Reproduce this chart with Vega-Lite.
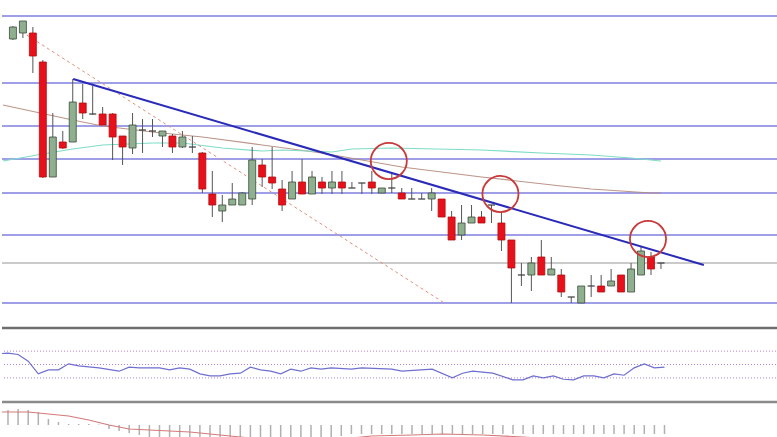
{
  "$schema": "https://vega.github.io/schema/vega-lite/v6.json",
  "padding": 0,
  "autosize": {"type": "pad"},
  "background": "white",
  "spacing": 0,
  "config": {"view": {"stroke": null}},
  "datasets": {
    "candles": [
      {"t":0,"o":361,"c":373,"h":374,"l":360},
      {"t":1,"o":367,"c":379,"h":379,"l":362},
      {"t":2,"o":367,"c":344,"h":373,"l":327},
      {"t":3,"o":338,"c":223,"h":340,"l":222},
      {"t":4,"o":223,"c":263,"h":287,"l":223},
      {"t":5,"o":258,"c":252,"h":269,"l":251},
      {"t":6,"o":258,"c":298,"h":321,"l":258},
      {"t":7,"o":297,"c":287,"h":316,"l":281},
      {"t":8,"o":286,"c":286,"h":314,"l":285},
      {"t":9,"o":286,"c":275,"h":293,"l":275},
      {"t":10,"o":286,"c":263,"h":287,"l":240},
      {"t":11,"o":264,"c":253,"h":264,"l":235},
      {"t":12,"o":252,"c":275,"h":287,"l":246},
      {"t":13,"o":270,"c":270,"h":281,"l":247},
      {"t":14,"o":269,"c":269,"h":281,"l":263},
      {"t":15,"o":264,"c":269,"h":269,"l":253},
      {"t":16,"o":264,"c":253,"h":266,"l":247},
      {"t":17,"o":253,"c":263,"h":269,"l":252},
      {"t":18,"o":253,"c":253,"h":264,"l":247},
      {"t":19,"o":247,"c":211,"h":248,"l":207},
      {"t":20,"o":206,"c":195,"h":229,"l":183},
      {"t":21,"o":189,"c":195,"h":205,"l":178},
      {"t":22,"o":195,"c":201,"h":217,"l":195},
      {"t":23,"o":195,"c":207,"h":208,"l":195},
      {"t":24,"o":201,"c":240,"h":253,"l":195},
      {"t":25,"o":235,"c":223,"h":241,"l":213},
      {"t":26,"o":223,"c":217,"h":253,"l":211},
      {"t":27,"o":211,"c":195,"h":220,"l":189},
      {"t":28,"o":201,"c":218,"h":229,"l":201},
      {"t":29,"o":218,"c":206,"h":241,"l":206},
      {"t":30,"o":206,"c":223,"h":229,"l":206},
      {"t":31,"o":218,"c":212,"h":223,"l":206},
      {"t":32,"o":212,"c":218,"h":229,"l":206},
      {"t":33,"o":218,"c":212,"h":229,"l":206},
      {"t":34,"o":212,"c":212,"h":218,"l":212},
      {"t":35,"o":217,"c":217,"h":217,"l":206},
      {"t":36,"o":218,"c":212,"h":229,"l":206},
      {"t":37,"o":207,"c":212,"h":212,"l":207},
      {"t":38,"o":212,"c":212,"h":228,"l":207},
      {"t":39,"o":207,"c":201,"h":212,"l":201},
      {"t":40,"o":201,"c":201,"h":212,"l":201},
      {"t":41,"o":201,"c":201,"h":207,"l":201},
      {"t":42,"o":201,"c":207,"h":212,"l":189},
      {"t":43,"o":201,"c":183,"h":201,"l":183},
      {"t":44,"o":183,"c":160,"h":189,"l":160},
      {"t":45,"o":165,"c":177,"h":195,"l":160},
      {"t":46,"o":177,"c":183,"h":195,"l":177},
      {"t":47,"o":183,"c":177,"h":189,"l":177},
      {"t":48,"o":195,"c":195,"h":195,"l":177},
      {"t":49,"o":177,"c":160,"h":188,"l":149},
      {"t":50,"o":160,"c":132,"h":160,"l":97},
      {"t":51,"o":125,"c":125,"h":137,"l":114},
      {"t":52,"o":125,"c":137,"h":143,"l":109},
      {"t":53,"o":143,"c":125,"h":160,"l":125},
      {"t":54,"o":125,"c":131,"h":143,"l":125},
      {"t":55,"o":125,"c":108,"h":131,"l":103},
      {"t":56,"o":103,"c":103,"h":103,"l":97},
      {"t":57,"o":97,"c":114,"h":114,"l":97},
      {"t":58,"o":114,"c":114,"h":125,"l":103},
      {"t":59,"o":114,"c":108,"h":125,"l":108},
      {"t":60,"o":114,"c":119,"h":131,"l":114},
      {"t":61,"o":125,"c":108,"h":125,"l":108},
      {"t":62,"o":108,"c":131,"h":137,"l":108},
      {"t":63,"o":125,"c":149,"h":153,"l":125},
      {"t":64,"o":143,"c":131,"h":148,"l":125},
      {"t":65,"o":137,"c":137,"h":137,"l":131}
    ],
    "levels": [
      {"p":384,"kind":"blue"},{"p":317,"kind":"blue"},{"p":274,"kind":"blue"},
      {"p":241,"kind":"blue"},{"p":207,"kind":"blue"},{"p":165,"kind":"blue"},
      {"p":137,"kind":"grey"},{"p":97,"kind":"blue"}
    ],
    "maSlow": [
      {"t":-1,"p":295},{"t":6,"p":280},{"t":9,"p":274},{"t":14,"p":268},{"t":19,"p":263},
      {"t":25,"p":255},{"t":31,"p":247},{"t":39,"p":233},{"t":47,"p":223},{"t":55,"p":214},
      {"t":58,"p":211},{"t":64,"p":207},{"t":65,"p":207}
    ],
    "maFast": [
      {"t":-1,"p":239},{"t":3,"p":246},{"t":6,"p":251},{"t":9,"p":255},{"t":14,"p":257},
      {"t":17,"p":257},{"t":21,"p":252},{"t":25,"p":249},{"t":27,"p":250},{"t":32,"p":248},
      {"t":34,"p":251},{"t":38,"p":252},{"t":47,"p":250},{"t":53,"p":247},{"t":58,"p":245},
      {"t":62,"p":242},{"t":65,"p":239}
    ],
    "trend": [{"t":6.04,"p":321},{"t":69.3,"p":135}],
    "dotted": [{"t":1.39,"p":365},{"t":43.27,"p":97}],
    "circles": [{"t":37.7,"p":239},{"t":48.9,"p":206},{"t":63.7,"p":161}],
    "rsi": [
      {"t":-1,"v":66},{"t":0,"v":67},{"t":1,"v":65},{"t":2,"v":55},{"t":3,"v":36},{"t":4,"v":42},
      {"t":5,"v":42},{"t":6,"v":51},{"t":7,"v":48},{"t":9,"v":45},{"t":11,"v":40},{"t":12,"v":46},
      {"t":13,"v":45},{"t":15,"v":45},{"t":16,"v":42},{"t":17,"v":45},{"t":18,"v":43},{"t":19,"v":36},
      {"t":20,"v":33},{"t":21,"v":33},{"t":22,"v":36},{"t":23,"v":37},{"t":24,"v":46},{"t":25,"v":42},
      {"t":26,"v":40},{"t":27,"v":36},{"t":28,"v":43},{"t":29,"v":40},{"t":30,"v":45},{"t":31,"v":43},
      {"t":32,"v":45},{"t":34,"v":43},{"t":35,"v":45},{"t":38,"v":43},{"t":39,"v":40},{"t":42,"v":43},
      {"t":44,"v":30},{"t":45,"v":37},{"t":46,"v":40},{"t":48,"v":37},{"t":50,"v":27},{"t":51,"v":27},
      {"t":52,"v":33},{"t":53,"v":30},{"t":54,"v":33},{"t":55,"v":28},{"t":56,"v":27},{"t":57,"v":33},
      {"t":58,"v":33},{"t":59,"v":30},{"t":60,"v":36},{"t":61,"v":34},{"t":62,"v":45},{"t":63,"v":51},
      {"t":64,"v":45},{"t":65,"v":46}
    ],
    "rsiLevels": [{"v":70},{"v":50},{"v":30}],
    "hist": [
      {"t":0,"v":15},{"t":1,"v":16},{"t":2,"v":15},{"t":3,"v":13},{"t":4,"v":6},{"t":5,"v":3},
      {"t":6,"v":1},{"t":7,"v":1},{"t":8,"v":1},{"t":9,"v":0.5},{"t":10,"v":-4},{"t":11,"v":-6},
      {"t":12,"v":-8},{"t":13,"v":-10},{"t":14,"v":-12},{"t":15,"v":-16},{"t":16,"v":-16},{"t":17,"v":-16},
      {"t":18,"v":-16},{"t":19,"v":-16},{"t":20,"v":-16},{"t":21,"v":-16},{"t":22,"v":-16},{"t":23,"v":-16},
      {"t":24,"v":-16},{"t":25,"v":-16},{"t":26,"v":-16},{"t":27,"v":-16},{"t":28,"v":-16},{"t":29,"v":-16},
      {"t":30,"v":-16},{"t":31,"v":-15},{"t":32,"v":-13},{"t":33,"v":-11},{"t":34,"v":-9},{"t":35,"v":-9},
      {"t":36,"v":-9},{"t":37,"v":-9},{"t":38,"v":-9},{"t":39,"v":-9},{"t":40,"v":-9},{"t":41,"v":-9},
      {"t":42,"v":-9},{"t":43,"v":-9},{"t":44,"v":-9},{"t":45,"v":-9},{"t":46,"v":-9},{"t":47,"v":-9},
      {"t":48,"v":-9},{"t":49,"v":-9},{"t":50,"v":-9},{"t":51,"v":-9},{"t":52,"v":-9},{"t":53,"v":-9},
      {"t":54,"v":-9},{"t":55,"v":-9},{"t":56,"v":-9},{"t":57,"v":-9},{"t":58,"v":-9},{"t":59,"v":-9},
      {"t":60,"v":-9},{"t":61,"v":-9},{"t":62,"v":-9},{"t":63,"v":-9},{"t":64,"v":-9},{"t":65,"v":-9}
    ],
    "signal": [
      {"t":-1,"v":13},{"t":2,"v":13},{"t":3,"v":12},{"t":6,"v":9},{"t":8,"v":5},{"t":10,"v":0},
      {"t":12,"v":-4},{"t":14,"v":-5},{"t":18,"v":-7},{"t":21,"v":-10},{"t":23,"v":-12},{"t":25,"v":-14},
      {"t":29,"v":-17},{"t":33,"v":-14},{"t":36,"v":-11},{"t":40,"v":-10},{"t":43,"v":-9},{"t":47,"v":-10},
      {"t":51,"v":-12},{"t":54,"v":-14},{"t":59,"v":-17},{"t":65,"v":-19}
    ],
    "rsiSep": [{"v":104.5}],
    "macdSep": [{"v":23}]
  },
  "vconcat": [
    {
      "width": 777,
      "height": 326,
      "layer": [
        {
          "data": {"name": "levels"},
          "mark": {"type": "rule", "strokeWidth": 1.4},
          "encoding": {
            "y": {"field": "p", "type": "quantitative", "scale": {"domain": [74, 400], "nice": false, "zero": false}, "axis": null},
            "color": {"field": "kind", "type": "nominal", "scale": {"domain": ["blue", "grey"], "range": ["#7f7fe0", "#b8b8b8"]}, "legend": null}
          }
        },
        {
          "data": {"name": "maSlow"},
          "mark": {"type": "line", "color": "#b58a7c", "strokeWidth": 1.2, "opacity": 0.9, "clip": true},
          "encoding": {
            "x": {"field": "t", "type": "quantitative", "scale": {"domain": [-0.594, 76.337], "nice": false, "zero": false}, "axis": null},
            "y": {"field": "p", "type": "quantitative"}
          }
        },
        {
          "data": {"name": "maFast"},
          "mark": {"type": "line", "color": "#7fdcc6", "strokeWidth": 1.2, "clip": true},
          "encoding": {
            "x": {"field": "t", "type": "quantitative"},
            "y": {"field": "p", "type": "quantitative"}
          }
        },
        {
          "data": {"name": "dotted"},
          "mark": {"type": "line", "color": "#e0907f", "strokeWidth": 1, "strokeDash": [3, 3], "clip": true},
          "encoding": {
            "x": {"field": "t", "type": "quantitative"},
            "y": {"field": "p", "type": "quantitative"}
          }
        },
        {
          "data": {"name": "candles"},
          "mark": {"type": "rule", "color": "#555555", "strokeWidth": 1},
          "encoding": {
            "x": {"field": "t", "type": "quantitative"},
            "y": {"field": "l", "type": "quantitative"},
            "y2": {"field": "h"}
          }
        },
        {
          "data": {"name": "candles"},
          "mark": {"type": "bar", "size": 7, "strokeWidth": 0.8},
          "encoding": {
            "x": {"field": "t", "type": "quantitative"},
            "y": {"field": "o", "type": "quantitative"},
            "y2": {"field": "c"},
            "fill": {"condition": {"test": "datum.c > datum.o", "value": "#8fb08f"}, "value": "#e8101a"},
            "stroke": {"condition": [{"test": "datum.c > datum.o", "value": "#3c4a3c"}, {"test": "datum.c < datum.o", "value": "#b01010"}], "value": "#444444"}
          }
        },
        {
          "data": {"name": "trend"},
          "mark": {"type": "line", "color": "#2a2ab8", "strokeWidth": 2, "clip": true},
          "encoding": {
            "x": {"field": "t", "type": "quantitative"},
            "y": {"field": "p", "type": "quantitative"}
          }
        },
        {
          "data": {"name": "circles"},
          "mark": {"type": "point", "shape": "circle", "filled": false, "size": 1300, "color": "#c83a3a", "strokeWidth": 1.8, "opacity": 1},
          "encoding": {
            "x": {"field": "t", "type": "quantitative"},
            "y": {"field": "p", "type": "quantitative"}
          }
        }
      ]
    },
    {
      "width": 777,
      "height": 73,
      "layer": [
        {
          "data": {"name": "rsiSep"},
          "mark": {"type": "rule", "color": "#6e6e6e", "strokeWidth": 2.5},
          "encoding": {
            "y": {"field": "v", "type": "quantitative", "scale": {"domain": [-3, 106], "nice": false, "zero": false}, "axis": null}
          }
        },
        {
          "data": {"name": "rsiLevels"},
          "mark": {"type": "rule", "color": "#b482d2", "strokeWidth": 1, "strokeDash": [1, 2]},
          "encoding": {
            "y": {"field": "v", "type": "quantitative"}
          }
        },
        {
          "data": {"name": "rsi"},
          "mark": {"type": "line", "color": "#6f6fcf", "strokeWidth": 1.2, "clip": true},
          "encoding": {
            "x": {"field": "t", "type": "quantitative", "scale": {"domain": [-0.594, 76.337], "nice": false, "zero": false}, "axis": null},
            "y": {"field": "v", "type": "quantitative"}
          }
        }
      ]
    },
    {
      "width": 777,
      "height": 38,
      "layer": [
        {
          "data": {"name": "macdSep"},
          "mark": {"type": "rule", "color": "#8a8a8a", "strokeWidth": 2.5},
          "encoding": {
            "y": {"field": "v", "type": "quantitative", "scale": {"domain": [-14, 24], "nice": false, "zero": false}, "axis": null}
          }
        },
        {
          "data": {"name": "hist"},
          "mark": {"type": "rule", "color": "#b0b0b0", "strokeWidth": 1.5, "clip": true},
          "encoding": {
            "x": {"field": "t", "type": "quantitative", "scale": {"domain": [-0.594, 76.337], "nice": false, "zero": false}, "axis": null},
            "y": {"field": "v", "type": "quantitative"},
            "y2": {"datum": 0}
          }
        },
        {
          "data": {"name": "signal"},
          "mark": {"type": "line", "color": "#d47a7a", "strokeWidth": 1.2, "clip": true},
          "encoding": {
            "x": {"field": "t", "type": "quantitative"},
            "y": {"field": "v", "type": "quantitative"}
          }
        }
      ]
    }
  ]
}
